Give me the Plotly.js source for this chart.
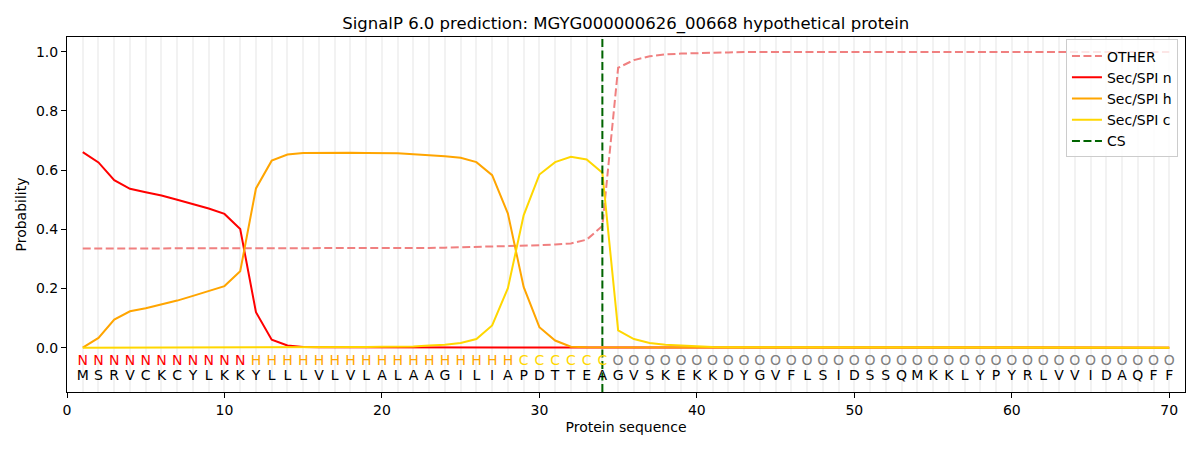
<!DOCTYPE html>
<html>
<head>
<meta charset="utf-8">
<script src="https://cdn.plot.ly/plotly-3.0.1.min.js"></script>
<style>html,body{margin:0;padding:0;background:#fff;}#chart{width:1200px;height:450px;}</style>
</head>
<body>
<div id="chart"></div>
<script>
const sequence = "MSRVCKCYLKKYLLLVLVLALAAGILIAPDTTEAGVSKEKKDYGVFLSIDSSQMKKLYPYRLVVIDAQFF".split("");
const regionLabels = "NNNNNNNNNNNHHHHHHHHHHHHHHHHHCCCCCCOOOOOOOOOOOOOOOOOOOOOOOOOOOOOOOOOOOO".split("");
const positions = sequence.map((_, i) => i + 1);

const otherProb = [0.335,0.335,0.335,0.335,0.335,0.335,0.335,0.335,0.335,0.335,
  0.335,0.335,0.335,0.335,0.335,0.335,0.335,0.335,0.335,0.336,
  0.336,0.336,0.337,0.338,0.339,0.340,0.341,0.342,0.344,0.346,
  0.349,0.352,0.365,0.411,0.946,0.972,0.985,0.991,0.994,0.996,
  0.997,0.998,0.999,0.999,0.999,0.999,0.999,0.999,0.999,0.999,
  0.999,0.999,0.999,0.999,0.999,0.999,0.999,0.999,0.999,0.999,
  0.999,0.999,0.999,0.999,0.999,0.999,0.999,0.999,0.999,0.999];
const secN = [0.661,0.626,0.566,0.537,0.525,0.514,0.500,0.486,0.470,0.452,
  0.401,0.120,0.027,0.007,0.002,0.001,0.001,0.001,0.001,0.001,
  0,0,0,0,0,0,0,0,0,0,0,0,0,0,0,0,0,0,0,0,
  0,0,0,0,0,0,0,0,0,0,0,0,0,0,0,0,0,0,0,0,
  0,0,0,0,0,0,0,0,0,0];
const secH = [0.000,0.033,0.095,0.123,0.133,0.146,0.159,0.175,0.191,0.208,
  0.258,0.538,0.632,0.653,0.658,0.659,0.659,0.659,0.658,0.658,
  0.657,0.654,0.651,0.647,0.642,0.627,0.583,0.453,0.205,0.069,
  0.024,0.003,0.001,0.001,0.001,0,0,0,0,0,
  0,0,0,0,0,0,0,0,0,0,0,0,0,0,0,0,0,0,0,0,
  0,0,0,0,0,0,0,0,0,0];
const secC = [0.000,0.000,0.000,0.000,0.001,0.001,0.001,0.001,0.001,0.001,
  0.001,0.001,0.001,0.001,0.001,0.002,0.002,0.002,0.002,0.003,
  0.003,0.004,0.007,0.010,0.016,0.029,0.075,0.201,0.447,0.585,
  0.627,0.645,0.636,0.591,0.058,0.029,0.016,0.010,0.007,0.004,
  0.002,0.001,0.001,0,0,0,0,0,0,0,0,0,0,0,0,0,0,0,0,0,
  0,0,0,0,0,0,0,0,0,0];
const csPosition = 34;

const yRange = [-0.15, 1.05];
const labelColors = {N: "#ff0000", H: "#ffa500", C: "#ffd700", O: "#808080"};
const font = "DejaVu Sans, sans-serif";

const traces = [
  {x: positions, y: otherProb, name: "OTHER", mode: "lines",
   line: {color: "#f08080", width: 2, dash: "8px,3.5px"}},
  {x: positions, y: secN, name: "Sec/SPI n", mode: "lines",
   line: {color: "#ff0000", width: 2}},
  {x: positions, y: secH, name: "Sec/SPI h", mode: "lines",
   line: {color: "#ffa500", width: 2}},
  {x: positions, y: secC, name: "Sec/SPI c", mode: "lines",
   line: {color: "#ffd700", width: 2}},
  {x: [csPosition, csPosition], y: yRange, name: "CS", mode: "lines",
   line: {color: "#006400", width: 2, dash: "8px,3.5px"}},
  {x: positions, y: positions.map(() => -0.046), mode: "text", text: regionLabels,
   textfont: {family: font, size: 14, color: regionLabels.map(l => labelColors[l])},
   showlegend: false, hoverinfo: "skip", cliponaxis: false},
  {x: positions, y: positions.map(() => -0.097), mode: "text", text: sequence,
   textfont: {family: font, size: 14, color: "#000000"},
   showlegend: false, hoverinfo: "skip", cliponaxis: false}
];

const layout = {
  width: 1200, height: 450,
  margin: {l: 67, r: 15, t: 37, b: 58},
  paper_bgcolor: "#ffffff", plot_bgcolor: "#ffffff",
  font: {family: font, size: 14, color: "#000000"},
  title: {text: "SignalP 6.0 prediction: MGYG000000626_00668 hypothetical protein",
    font: {family: font, size: 16.5, color: "#000000"},
    x: 0.5215, xanchor: "center", y: 0.949, yanchor: "middle"},
  xaxis: {range: [0, 71], tickmode: "linear", tick0: 0, dtick: 10,
    ticks: "outside", ticklen: 5, tickwidth: 1, tickcolor: "#000",
    showline: true, mirror: true, linecolor: "#000", linewidth: 1,
    showgrid: true, gridcolor: "#f2f2f2", gridwidth: 2, zeroline: false,
    minor: {tick0: 0, dtick: 1, showgrid: true, gridcolor: "#f2f2f2", gridwidth: 2, ticks: ""},
    tickfont: {family: font, size: 14},
    title: {text: "Protein sequence", font: {family: font, size: 14}, standoff: 5}},
  yaxis: {range: yRange, tickmode: "array", tickvals: [0, 0.2, 0.4, 0.6, 0.8, 1.0],
    ticktext: ["0.0", "0.2", "0.4", "0.6", "0.8", "1.0"],
    ticks: "outside", ticklen: 5, tickwidth: 1, tickcolor: "#000",
    showline: true, mirror: true, linecolor: "#000", linewidth: 1,
    showgrid: false, zeroline: false,
    tickfont: {family: font, size: 14},
    title: {text: "Probability", font: {family: font, size: 14}, standoff: 6}},
  legend: {x: 0.9937, xanchor: "right", y: 0.993, yanchor: "top",
    bgcolor: "rgba(255,255,255,0.8)", bordercolor: "#cccccc", borderwidth: 1,
    font: {family: font, size: 14}, tracegroupgap: 0, itemwidth: 30},
  showlegend: true
};

Plotly.newPlot("chart", traces, layout, {staticPlot: true, displayModeBar: false});
</script>
</body>
</html>
